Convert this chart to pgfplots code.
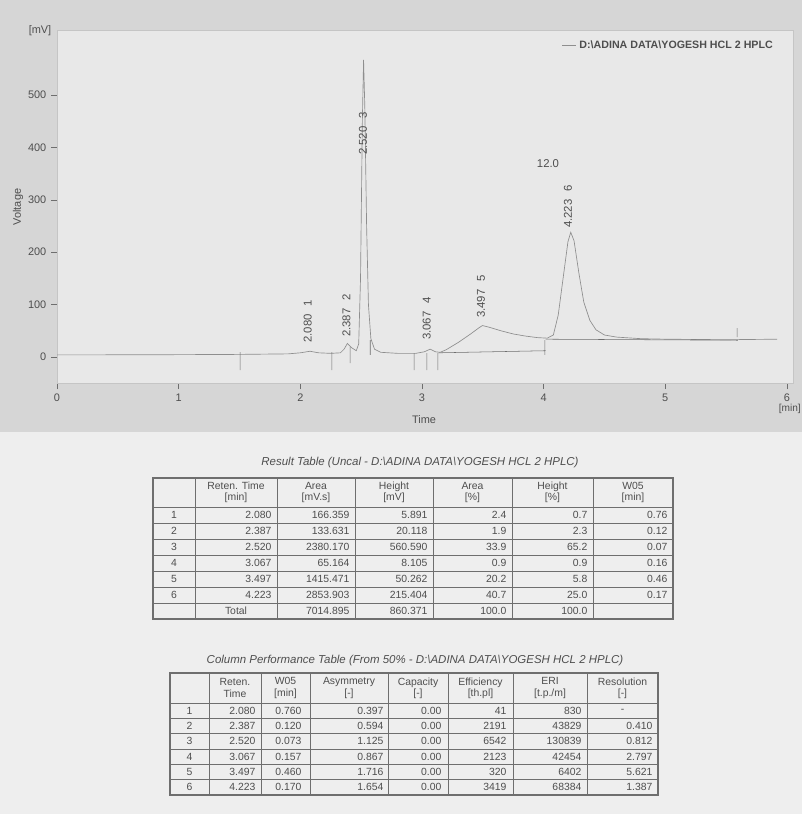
\documentclass[border=0pt]{standalone}
\usepackage{pgfplots}
\pgfplotsset{compat=1.18}
\usepackage{fontspec}
\setmainfont{Liberation Sans}
\definecolor{txt}{HTML}{4E4E4E}
\definecolor{trace}{HTML}{8E8E8E}
\definecolor{gridc}{HTML}{6E6E6E}
\definecolor{bgtop}{HTML}{D6D6D6}
\definecolor{bgplot}{HTML}{E8E8E8}
\definecolor{bgbot}{HTML}{EEEEEE}
\newcommand\tf{\fontsize{7.8}{8.4}\selectfont}
\newcommand\rowA[8]{%
 \node at (174,#1) {#2};
 \node[anchor=east] at (273,#1) {#3};
 \node[anchor=east] at (351,#1) {#4};
 \node[anchor=east] at (429,#1) {#5};
 \node[anchor=east] at (508,#1) {#6};
 \node[anchor=east] at (589,#1) {#7};
 \node[anchor=east] at (669,#1) {#8};}
\newcommand\rowB[9]{%
 \node at (189.5,#1) {#2};
 \node[anchor=east] at (257,#1) {#3};
 \node[anchor=east] at (303,#1) {#4};
 \node[anchor=east] at (385,#1) {#5};
 \node[anchor=east] at (443,#1) {#6};
 \node[anchor=east] at (508,#1) {#7};
 \node[anchor=east] at (583,#1) {#8};
 \node[anchor=east] at (654,#1) {#9};}
\begin{document}
\begin{tikzpicture}
\useasboundingbox (0,0) rectangle (601.5pt,-610.5pt);
\clip (0,0) rectangle (601.5pt,-610.5pt);
\begin{scope}[x=0.75pt,y=-0.75pt]
\fill[bgtop] (0,0) rectangle (802,432);
\fill[bgbot] (0,432) rectangle (802,814);
\end{scope}
\begin{axis}[
  at={(42.75pt,-287.25pt)}, anchor=south west,
  scale only axis, width=552pt, height=264.75pt,
  xmin=0, xmax=6.05, ymin=-49.6, ymax=624,
  axis background/.style={fill=bgplot},
  axis line style={draw=bgplot!85!black, line width=0.4pt},
  xtick={0,1,...,6}, ytick={0,100,...,500},
  tick align=outside, major tick length=4.5pt,
  tick style={draw=gridc, line width=0.4pt},
  xtick pos=bottom, ytick pos=left,
  ticklabel style={font=\fontsize{8.2}{9}\selectfont, text=txt},
  /pgf/number format/assume math mode=true,
  unbounded coords=jump,
  clip=false,
  legend style={at={(rel axis cs:0.982,0.957)}, anchor=east, draw=none, fill=none,
    font=\bfseries\fontsize{8}{9}\selectfont, text=txt},
  legend image code/.code={\draw[trace,line width=0.5pt] (0cm,0cm) -- (0.38cm,0cm);},
]
\addplot[trace, line width=0.5pt] coordinates {
(0,4) (0.5,4.2) (1.0,4.5) (1.5,5) (1.9,6) (2.0,8) (2.08,11) (2.15,8) (2.25,7)
(2.33,8) (2.36,15) (2.387,26) (2.42,18) (2.46,12) (2.48,25) (2.495,150)
(2.51,450) (2.52,567) (2.53,480) (2.545,250) (2.56,100) (2.58,35) (2.61,15)
(2.66,9) (2.8,7) (2.95,7) (3.02,10) (3.067,15) (3.11,10) (3.15,9) (3.2,14)
(3.3,28) (3.4,44) (3.47,56) (3.497,60) (3.55,57) (3.65,50) (3.75,44) (3.85,40)
(3.95,37) (4.03,36) (4.08,42) (4.12,80) (4.16,150) (4.2,220) (4.223,238)
(4.25,222) (4.29,160) (4.33,105) (4.38,70) (4.43,52) (4.5,42) (4.6,38)
(4.8,35) (5.0,34) (5.5,33) (5.92,34)};
\addlegendentry{D:\textbackslash ADINA DATA\textbackslash YOGESH HCL 2 HPLC}
\addplot[gridc, line width=0.4pt, forget plot] coordinates {
(3.136,8) (4.016,12) (4.016,nan)
(4.016,34) (5.597,32) (5.597,nan)
(1.506,9.5) (1.506,-25) (1.506,nan)
(2.26,9.5) (2.26,-25) (2.26,nan)
(2.41,19) (2.41,-11.5) (2.41,nan)
(2.575,32) (2.575,4) (2.575,nan)
(2.935,7.6) (2.935,-25) (2.935,nan)
(3.04,7.6) (3.04,-25) (3.04,nan)
(3.13,7.6) (3.13,-25) (3.13,nan)
(4.01,32) (4.01,4) (4.01,nan)
(5.59,55) (5.59,38)};
\begin{scope}[every node/.style={font=\fontsize{8.5}{9}\selectfont, text=txt, inner sep=0pt}]
\node[rotate=90, anchor=west] at (axis cs:2.06,27) {2.080\hspace{6pt}1};
\node[rotate=90, anchor=west] at (axis cs:2.38,38) {2.387\hspace{6pt}2};
\node[rotate=90, anchor=west] at (axis cs:2.515,385) {2.520\hspace{6pt}3};
\node[rotate=90, anchor=west] at (axis cs:3.04,32) {3.067\hspace{6pt}4};
\node[rotate=90, anchor=west] at (axis cs:3.485,74) {3.497\hspace{6pt}5};
\node[rotate=90, anchor=west] at (axis cs:4.2,246) {4.223\hspace{6pt}6};
\node at (axis cs:4.036,370) {12.0};
\end{scope}
\end{axis}
\begin{scope}[x=0.75pt,y=-0.75pt, every node/.style={font=\tf, text=txt, inner sep=1pt}]
% chart labels
\node[font=\fontsize{8.2}{9}\selectfont] at (40,31) {[mV]};
\node[rotate=90, font=\fontsize{8.2}{9}\selectfont] at (18,207) {Voltage};
\node[font=\fontsize{8.2}{9}\selectfont] at (424,420) {Time};
\node[anchor=east, inner sep=0pt, font=\fontsize{7.6}{9}\selectfont] at (801,409) {[min]};
% ---------- table 1 ----------
\node[font=\itshape\fontsize{8.6}{9}\selectfont] at (420,463) {Result Table (Uncal - D:\textbackslash ADINA DATA\textbackslash YOGESH HCL 2 HPLC)};
\foreach \yy in {507,523,539,555,571,587,603} \draw[gridc, line width=0.4pt] (153,\yy) -- (673,\yy);
\foreach \xx in {195,277,355,433,512,593} \draw[gridc, line width=0.4pt] (\xx,478) -- (\xx,619);
\draw[gridc, line width=0.8pt] (153,478) rectangle (673,619);
\node[align=center] at (236,492.5) {Reten. Time\\{}[min]};
\node[align=center] at (316,492.5) {Area\\{}[mV.s]};
\node[align=center] at (394,492.5) {Height\\{}[mV]};
\node[align=center] at (472.5,492.5) {Area\\{}[\%]};
\node[align=center] at (552.5,492.5) {Height\\{}[\%]};
\node[align=center] at (633,492.5) {W05\\{}[min]};
\rowA{515}{1}{2.080}{166.359}{5.891}{2.4}{0.7}{0.76}
\rowA{531}{2}{2.387}{133.631}{20.118}{1.9}{2.3}{0.12}
\rowA{547}{3}{2.520}{2380.170}{560.590}{33.9}{65.2}{0.07}
\rowA{563}{4}{3.067}{65.164}{8.105}{0.9}{0.9}{0.16}
\rowA{579}{5}{3.497}{1415.471}{50.262}{20.2}{5.8}{0.46}
\rowA{595}{6}{4.223}{2853.903}{215.404}{40.7}{25.0}{0.17}
\node at (236,611) {Total};
\node[anchor=east] at (351,611) {7014.895};
\node[anchor=east] at (429,611) {860.371};
\node[anchor=east] at (508,611) {100.0};
\node[anchor=east] at (589,611) {100.0};
% ---------- table 2 ----------
\node[font=\itshape\fontsize{8.6}{9}\selectfont] at (415,661) {Column Performance Table (From 50\% - D:\textbackslash ADINA DATA\textbackslash YOGESH HCL 2 HPLC)};
\foreach \yy in {703,718.3,733.7,749,764.3,779.7} \draw[gridc, line width=0.4pt] (170,\yy) -- (658,\yy);
\foreach \xx in {209,261,310,388,448,513,587} \draw[gridc, line width=0.4pt] (\xx,673) -- (\xx,795);
\draw[gridc, line width=0.8pt] (170,673) rectangle (658,795);
\node[align=center] at (235,688) {Reten.\\Time};
\node[align=center] at (285.5,688) {W05\\{}[min]};
\node[align=center] at (349,688) {Asymmetry\\{}[-]};
\node[align=center] at (418,688) {Capacity\\{}[-]};
\node[align=center] at (480.5,688) {Efficiency\\{}[th.pl]};
\node[align=center] at (550,688) {ERI\\{}[t.p./m]};
\node[align=center] at (622.5,688) {Resolution\\{}[-]};
\rowB{710.7}{1}{2.080}{0.760}{0.397}{0.00}{41}{830}{}
\node at (622.5,710.7) {-};
\rowB{726}{2}{2.387}{0.120}{0.594}{0.00}{2191}{43829}{0.410}
\rowB{741.3}{3}{2.520}{0.073}{1.125}{0.00}{6542}{130839}{0.812}
\rowB{756.7}{4}{3.067}{0.157}{0.867}{0.00}{2123}{42454}{2.797}
\rowB{772}{5}{3.497}{0.460}{1.716}{0.00}{320}{6402}{5.621}
\rowB{787.3}{6}{4.223}{0.170}{1.654}{0.00}{3419}{68384}{1.387}
\end{scope}
\end{tikzpicture}
\end{document}
